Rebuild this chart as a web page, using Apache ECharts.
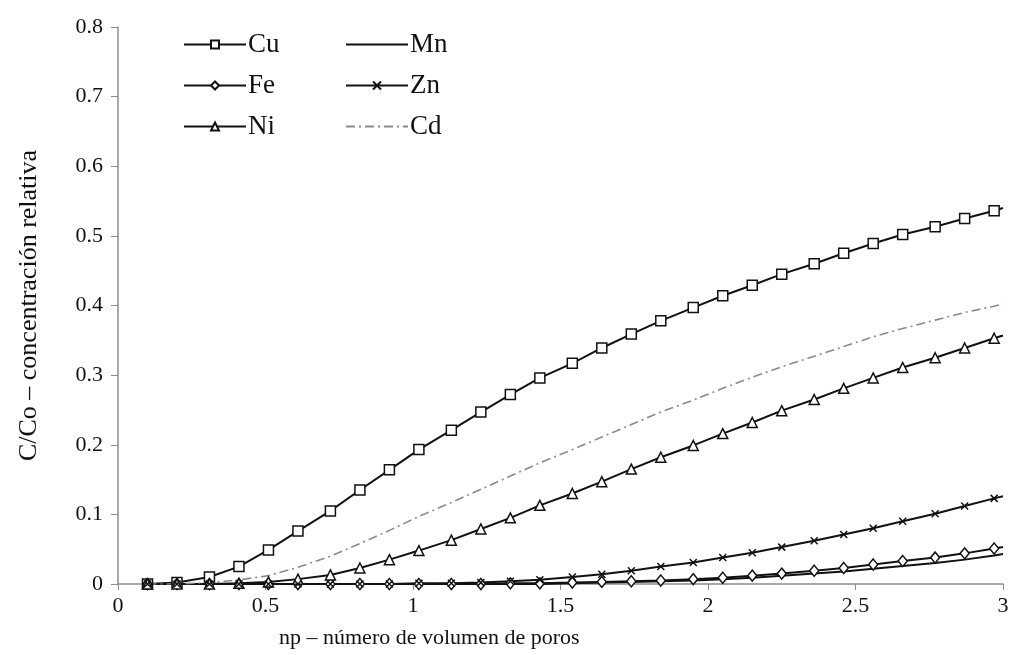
<!DOCTYPE html>
<html>
<head>
<meta charset="utf-8">
<script src="https://cdn.jsdelivr.net/npm/echarts@6/dist/echarts.min.js"></script>
<style>
  html, body { margin: 0; padding: 0; background: #fff; }
  #chart { width: 1013px; height: 655px; }
</style>
</head>
<body>
<div id="chart"></div>
<script>
// np - número de volumen de poros (markers), last point 3.0 has no marker
var np = [0.10, 0.20, 0.31, 0.41, 0.51, 0.61, 0.72, 0.82, 0.92, 1.02,
          1.13, 1.23, 1.33, 1.43, 1.54, 1.64, 1.74, 1.84, 1.95, 2.05,
          2.15, 2.25, 2.36, 2.46, 2.56, 2.66, 2.77, 2.87, 2.97, 3.00];

var cu = [0.000, 0.002, 0.010, 0.025, 0.049, 0.076, 0.105, 0.135, 0.164, 0.193,
          0.221, 0.247, 0.272, 0.296, 0.317, 0.339, 0.359, 0.378, 0.397, 0.414,
          0.429, 0.445, 0.460, 0.475, 0.489, 0.502, 0.513, 0.525, 0.536, 0.540];
var fe = [0.000, 0.000, 0.000, 0.000, 0.000, 0.000, 0.000, 0.000, 0.000, 0.000,
          0.000, 0.000, 0.001, 0.001, 0.002, 0.003, 0.004, 0.005, 0.007, 0.009,
          0.012, 0.015, 0.019, 0.023, 0.028, 0.033, 0.038, 0.044, 0.051, 0.053];
var ni = [0.000, 0.000, 0.000, 0.001, 0.003, 0.007, 0.013, 0.023, 0.035, 0.048,
          0.063, 0.079, 0.095, 0.113, 0.130, 0.147, 0.165, 0.182, 0.199, 0.216,
          0.232, 0.249, 0.265, 0.281, 0.296, 0.311, 0.325, 0.339, 0.353, 0.357];
var mn = [0.000, 0.000, 0.000, 0.000, 0.000, 0.000, 0.000, 0.000, 0.000, 0.000,
          0.000, 0.000, 0.000, 0.000, 0.001, 0.002, 0.003, 0.004, 0.005, 0.007,
          0.009, 0.012, 0.015, 0.018, 0.022, 0.026, 0.030, 0.035, 0.041, 0.043];
var zn = [0.000, 0.000, 0.000, 0.000, 0.000, 0.000, 0.000, 0.000, 0.000, 0.001,
          0.001, 0.002, 0.004, 0.006, 0.010, 0.014, 0.019, 0.025, 0.031, 0.038,
          0.045, 0.053, 0.062, 0.071, 0.080, 0.090, 0.101, 0.112, 0.123, 0.126];
var cd = [0.000, 0.000, 0.002, 0.006, 0.012, 0.024, 0.040, 0.058, 0.077, 0.097,
          0.117, 0.136, 0.155, 0.174, 0.193, 0.211, 0.229, 0.247, 0.264, 0.281,
          0.297, 0.312, 0.327, 0.341, 0.355, 0.367, 0.379, 0.390, 0.399, 0.402];

var xTicks = [0, 0.5, 1, 1.5, 2, 2.5, 3];
var yTicks = [0, 0.1, 0.2, 0.3, 0.4, 0.5, 0.6, 0.7, 0.8];

var FONT = '"Liberation Serif", "DejaVu Serif", serif';
var AXIS_GRAY = '#8c8c8c';

function pairs(ys) {
    var out = [];
    for (var i = 0; i < np.length; i++) {
        var p = { value: [np[i], ys[i]] };
        if (i === np.length - 1) {
            p.symbol = 'none';
        }
        out.push(p);
    }
    return out;
}

function markerSeries(name, ys, symbol, size) {
    return {
        name: name,
        type: 'line',
        data: pairs(ys),
        showSymbol: true,
        showAllSymbol: true,
        symbol: symbol,
        symbolSize: size,
        lineStyle: { color: '#111', width: 2 },
        itemStyle: { color: '#fff', borderColor: '#111', borderWidth: 1.5 }
    };
}

var series = [
    markerSeries('Cu', cu, 'rect', 10),
    markerSeries('Fe', fe, 'diamond', [9, 11]),
    markerSeries('Ni', ni, 'triangle', 10),
    {
        name: 'Mn',
        type: 'line',
        data: pairs(mn),
        symbol: 'none',
        showSymbol: false,
        lineStyle: { color: '#111', width: 2 },
        itemStyle: { color: '#111' }
    },
    {
        name: 'Zn',
        type: 'line',
        data: pairs(zn),
        showSymbol: true,
        showAllSymbol: true,
        symbol: 'path://M0,0L10,10M10,0L0,10',
        symbolSize: 7,
        lineStyle: { color: '#111', width: 2 },
        itemStyle: { color: '#111', borderColor: '#111', borderWidth: 1.5 }
    },
    {
        name: 'Cd',
        type: 'line',
        data: pairs(cd),
        symbol: 'none',
        showSymbol: false,
        lineStyle: { color: '#8a8a8a', width: 1.6, type: [9, 4, 2, 4] },
        itemStyle: { color: '#8a8a8a' }
    }
];

// lines without markers: hide the legend symbol, keep the line
var noMark = { color: 'transparent', borderColor: 'transparent', borderWidth: 0 };

var legendBase = {
    orient: 'vertical',
    top: 26,
    itemWidth: 62,
    itemHeight: 10,
    itemGap: 14,
    textStyle: { fontFamily: FONT, fontSize: 27, color: '#111', padding: [0, 0, 0, -3] }
};

var option = {
    animation: false,
    backgroundColor: '#fff',
    grid: { left: 118, right: 10, top: 27, bottom: 71, containLabel: false },
    legend: [
        Object.assign({}, legendBase, { left: 178, data: ['Cu', 'Fe', 'Ni'] }),
        Object.assign({}, legendBase, {
            left: 340,
            data: [
                { name: 'Mn', itemStyle: noMark },
                'Zn',
                { name: 'Cd', itemStyle: noMark }
            ]
        })
    ],
    xAxis: {
        type: 'value',
        min: xTicks[0],
        max: xTicks[xTicks.length - 1],
        interval: 0.5,
        axisLine: { show: true, lineStyle: { color: AXIS_GRAY, width: 1.5 } },
        axisTick: { show: true, length: 6, lineStyle: { color: AXIS_GRAY } },
        splitLine: { show: false },
        axisLabel: { fontFamily: FONT, fontSize: 22, color: '#111', margin: 11 }
    },
    yAxis: {
        type: 'value',
        min: yTicks[0],
        max: yTicks[yTicks.length - 1],
        interval: 0.1,
        axisLine: { show: true, lineStyle: { color: AXIS_GRAY, width: 1.5 } },
        axisTick: { show: true, length: 7, lineStyle: { color: AXIS_GRAY } },
        splitLine: { show: false },
        axisLabel: { fontFamily: FONT, fontSize: 22, color: '#111', margin: 15 },
        name: 'C/Co – concentración relativa',
        nameLocation: 'middle',
        nameGap: 76,
        nameTextStyle: { fontFamily: FONT, fontSize: 26, color: '#111' }
    },
    graphic: [{
        type: 'text',
        left: 279,
        top: 627,
        style: {
            text: 'np – número de volumen de poros',
            font: '22px ' + FONT,
            fill: '#111'
        }
    }],
    series: series
};

var myChart = echarts.init(document.getElementById('chart'));
myChart.setOption(option);
</script>
</body>
</html>
